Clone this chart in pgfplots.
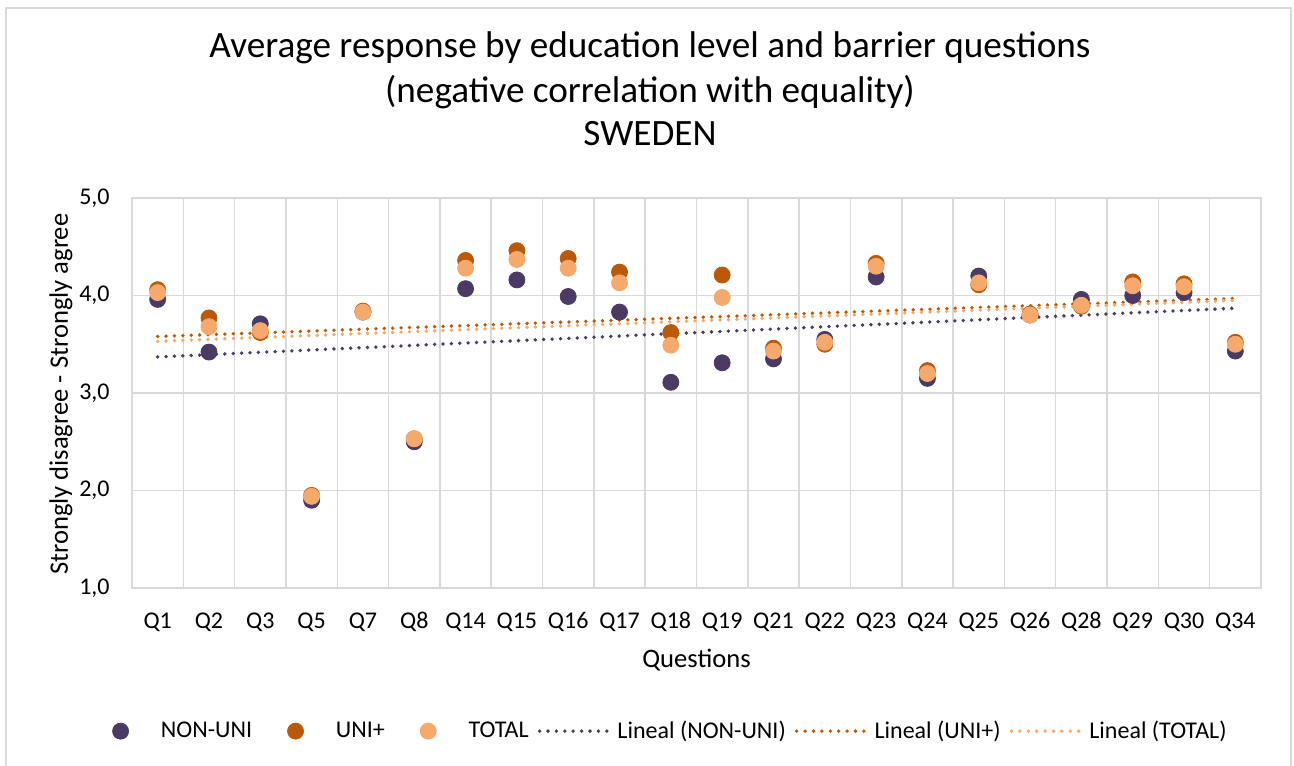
\documentclass[border=0pt]{standalone}
\usepackage{pgfplots}
\pgfplotsset{compat=1.18}
\usepackage{pgfplotstable}
\usepackage{fontspec}
\setmainfont{Carlito}
\definecolor{nonuni}{HTML}{4B3A63}
\definecolor{uni}{HTML}{B95A0B}
\definecolor{total}{HTML}{F5A96C}
\definecolor{gridc}{HTML}{D9D9D9}
\pgfplotstableread{
x nonuni uni total
0 3.96 4.06 4.03
1 3.42 3.77 3.68
2 3.71 3.62 3.64
3 1.90 1.95 1.94
4 3.83 3.84 3.83
5 2.50 2.53 2.53
6 4.07 4.36 4.28
7 4.16 4.46 4.37
8 3.99 4.38 4.28
9 3.83 4.24 4.13
10 3.11 3.62 3.49
11 3.31 4.21 3.98
12 3.35 3.46 3.43
13 3.55 3.50 3.52
14 4.19 4.33 4.30
15 3.15 3.23 3.20
16 4.20 4.11 4.13
17 3.80 3.81 3.80
18 3.96 3.89 3.90
19 4.00 4.14 4.10
20 4.03 4.12 4.09
21 3.43 3.52 3.50
}\datatable
\begin{document}
\begin{tikzpicture}
\path[fill=white] (0pt,0pt) rectangle (647pt,-382.5pt);
\draw[gridc, line width=0.75pt] (3pt,-383pt) -- (3pt,-4pt) -- (645.5pt,-4pt) -- (645.5pt,-383pt);
\node[anchor=base, inner sep=0pt, font=\fontsize{18.6}{22}\selectfont] at (325pt,-29pt) {Average response by education level and barrier questions};
\node[anchor=base, inner sep=0pt, font=\fontsize{18.6}{22}\selectfont] at (325pt,-51.5pt) {(negative correlation with equality)};
\node[anchor=base, inner sep=0pt, font=\fontsize{18.6}{22}\selectfont] at (325pt,-72.5pt) {SWEDEN};
\begin{axis}[
  at={(66pt,-294pt)}, anchor=south west,
  scale only axis, width=564.5pt, height=195pt,
  xmin=-0.5, xmax=21.5, ymin=1, ymax=5,
  xtick={0,...,21},
  xticklabels={Q1,Q2,Q3,Q5,Q7,Q8,Q14,Q15,Q16,Q17,Q18,Q19,Q21,Q22,Q23,Q24,Q25,Q26,Q28,Q29,Q30,Q34},
  minor xtick={-0.5,0.5,...,21.5},
  ytick={1,2,3,4,5},
  xminorgrids, ymajorgrids,
  major tick length=0pt, minor tick length=0pt,
  grid style={gridc, line width=0.75pt},
  minor grid style={gridc, line width=0.75pt},
  axis line style={gridc, line width=0.75pt},
  tick label style={font=\fontsize{12}{14}\selectfont, text=black},
  xticklabel style={anchor=base, inner sep=0pt, yshift=-20pt},
  yticklabel style={anchor=east, inner sep=0pt, xshift=-11pt},
  /pgf/number format/.cd, fixed, fixed zerofill, precision=1, use comma, assume math mode=true,
  /pgfplots/.cd,
  xlabel={Questions},
  ylabel={Strongly disagree - Strongly agree},
  label style={font=\fontsize{13.3}{15}\selectfont},
  xlabel style={at={(axis description cs:0.5,-0.205)}, anchor=base, inner sep=0pt},
  ylabel style={at={(axis description cs:-0.0567,0.497)}, anchor=base, inner sep=0pt},
  legend columns=6,
  legend style={at={(axis description cs:0.4605,-0.367)}, anchor=center, draw=none, fill=none,
    font=\fontsize{12}{14}\selectfont, inner sep=0pt, outer sep=0pt,
    nodes={inner sep=0pt}, column sep=0pt},
  trend/.style={line width=1.9pt, dash pattern=on 0pt off 4.2pt, line cap=round},
  mk/.style={only marks, mark=*, mark size=4pt, mark options={draw=#1, fill=#1}},
  mklegend/.style={legend image code/.code={\draw[##1] plot coordinates {(21.5pt,0pt)}; \path (0pt,0pt) (41.5pt,0pt);}},
  lnlegend/.style={legend image code/.code={\draw[##1] (4.5pt,0pt) -- (38.5pt,0pt); \path (0pt,0pt) (42.5pt,0pt);}},
]
\addplot[mk=nonuni, mklegend] table[x=x, y=nonuni] {\datatable};
\addlegendentry{NON-UNI}
\addplot[mk=uni, mklegend] table[x=x, y=uni] {\datatable};
\addlegendentry{UNI+}
\addplot[mk=total, mklegend] table[x=x, y=total] {\datatable};
\addlegendentry{TOTAL}
\addplot[trend, draw=nonuni, lnlegend] coordinates {(0,3.37) (21,3.87)};
\addlegendentry{Lineal (NON-UNI)}
\addplot[trend, draw=uni, lnlegend] coordinates {(0,3.58) (21,3.97)};
\addlegendentry{Lineal (UNI+)}
\addplot[trend, draw=total, lnlegend] coordinates {(0,3.53) (21,3.95)};
\addlegendentry{Lineal (TOTAL)}
\end{axis}
\pgfresetboundingbox
\path (0pt,0pt) rectangle (647pt,-382.5pt);
\end{tikzpicture}
\end{document}
